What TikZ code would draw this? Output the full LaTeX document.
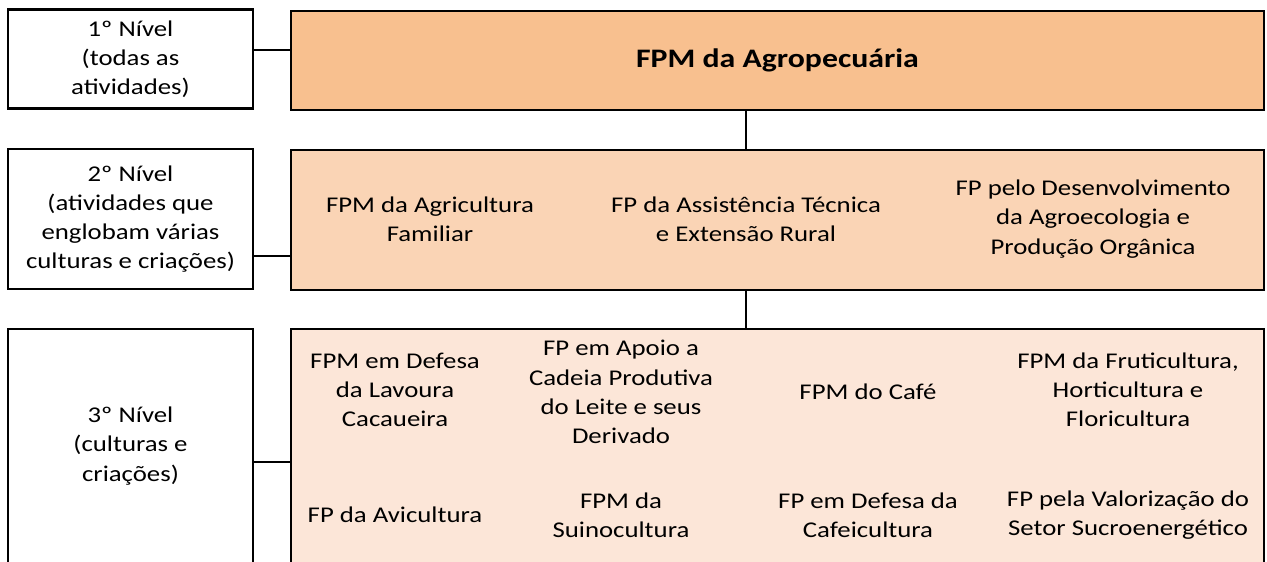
\documentclass[tikz,border=0pt]{standalone}
\usepackage{fontspec}
\setmainfont{Carlito}[FakeStretch=1.19]
\usepackage{xcolor}
\usetikzlibrary{positioning}
\definecolor{topfill}{HTML}{F8C08F}
\definecolor{midfill}{HTML}{FAD4B5}
\definecolor{lowfill}{HTML}{FCE6D8}
\tikzset{
    levelbox/.style={rectangle, draw=black, line width=1.6pt, fill=white, align=center, minimum width=6.125cm, inner sep=0pt, font=\fontsize{16}{20.8}\selectfont},
    groupbox/.style={rectangle, draw=black, line width=1.6pt, align=center, minimum width=24.325cm, inner sep=0pt},
    item/.style={align=center, inner sep=0pt, font=\fontsize{16}{20.8}\selectfont},
    link/.style={line width=1.4pt}
}

\begin{document}
\begin{tikzpicture}[x=0.025cm, y=-0.025cm]
    \clip (0,0) rectangle (1267,561);

    % Levels
    \node[levelbox, minimum height=2.475cm] (L1) at (130.5, 59) {1º Nível\\(todas as\\atividades)};
    \node[levelbox, minimum height=3.5cm] (L2) at (130.5, 219) {2º Nível\\(atividades que\\englobam várias\\culturas e criações)};
    \node[levelbox, minimum height=5.85cm] (L3) at (130.5, 446) {3º Nível\\(culturas e\\criações)};

    % Groups
    \node[groupbox, fill=topfill, minimum height=2.475cm, font=\fontsize{19}{23}\selectfont\bfseries] (G1) at (777.5, 60.5) {FPM da Agropecuária};
    \node[groupbox, fill=midfill, minimum height=3.5cm] (G2) at (777.5, 220) {};
    \node[groupbox, fill=lowfill, minimum height=5.85cm] (G3) at (777.5, 446) {};

    % 2nd level items
    \node[item] (agrfam) at (430, 219) {FPM da Agricultura\\Familiar};
    \node[item] (ater) at (746, 219) {FP da Assistência Técnica\\e Extensão Rural};
    \node[item] (agroeco) at (1093, 219) {FP pelo Desenvolvimento\\da Agroecologia e\\Produção Orgânica};

    % 3rd level items
    \node[item] (cacau) at (395, 390) {FPM em Defesa\\da Lavoura\\Cacaueira};
    \node[item] (leite) at (621, 392) {FP em Apoio a\\Cadeia Produtiva\\do Leite e seus\\Derivado};
    \node[item] (cafe) at (868, 392) {FPM do Café};
    \node[item] (fruti) at (1128, 390) {FPM da Fruticultura,\\Horticultura e\\Floricultura};
    \node[item] (avi) at (395, 515) {FP da Avicultura};
    \node[item] (suino) at (621, 515) {FPM da\\Suinocultura};
    \node[item] (cafeic) at (868, 515) {FP em Defesa da\\Cafeicultura};
    \node[item] (sucro) at (1128, 515) {FP pela Valorização do\\Setor Sucroenergético};

    % Connectors
    \coordinate (a1) at (746, 110);
    \coordinate (a2) at (746, 290);
    \draw[link] (L1.east |- 0,50) -- (G1.west |- 0,50);
    \draw[link] (L2.east |- 0,256) -- (G2.west |- 0,256);
    \draw[link] (L3.east |- 0,462) -- (G3.west |- 0,462);
    \draw[link] (a1) -- (a1 |- G2.north);
    \draw[link] (a2) -- (a2 |- G3.north);
\end{tikzpicture}
\end{document}
